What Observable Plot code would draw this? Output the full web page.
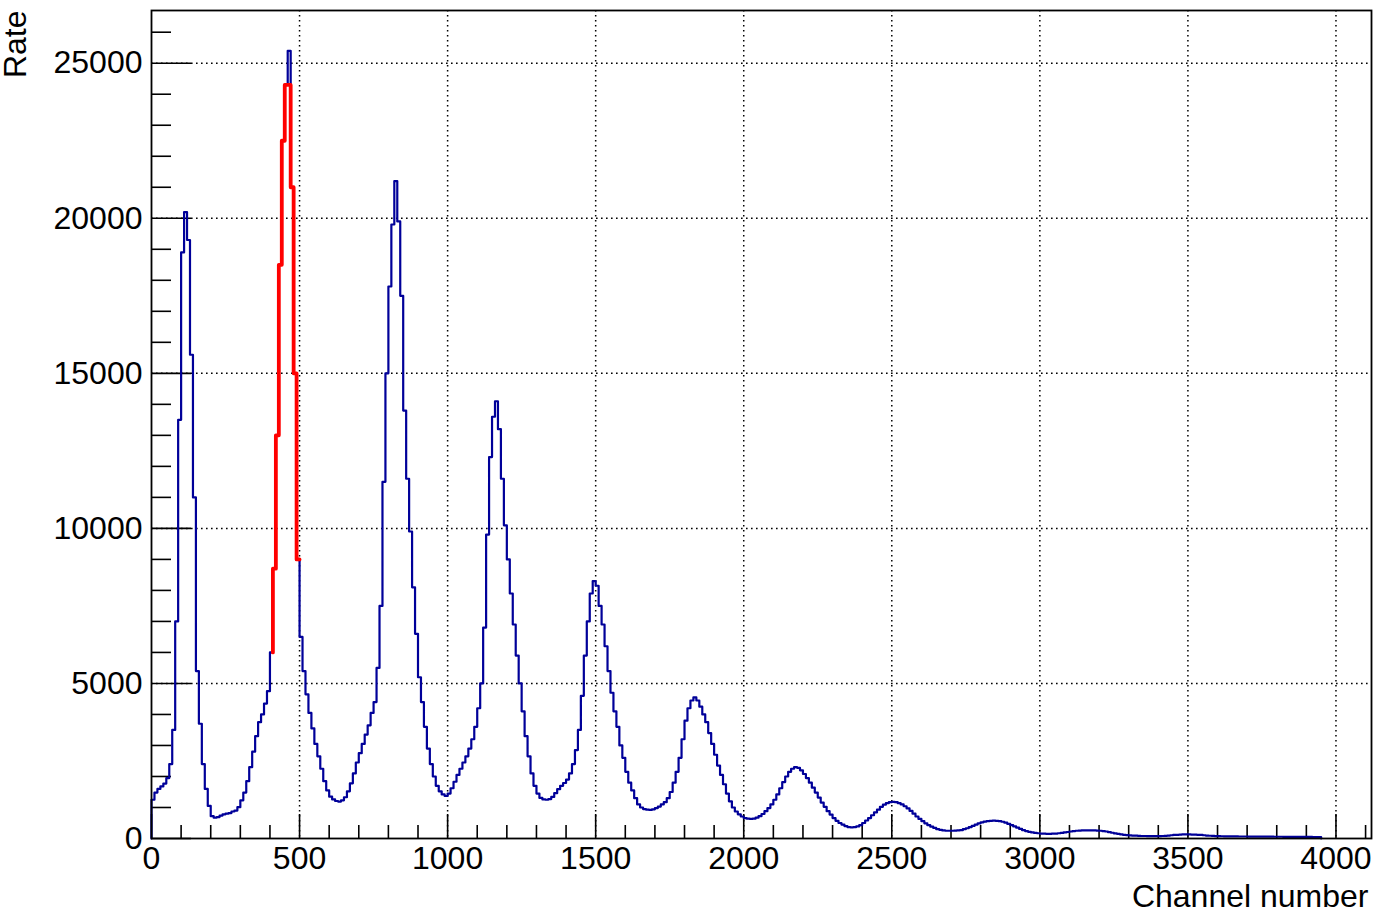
<!DOCTYPE html>
<html>
<head>
<meta charset="utf-8">
<script src="https://cdn.jsdelivr.net/npm/d3@7"></script>
<script src="https://cdn.jsdelivr.net/npm/@observablehq/plot@0.6"></script>
<style>
  html, body { margin: 0; padding: 0; background: #fff; }
</style>
</head>
<body>
<div id="chart"></div>
<script>
// Histogram: bins of 10 channels starting at channel 0
const binWidth = 10;
const blueCounts = [
  1250, 1480, 1600, 1680, 1770, 1950, 2400, 3500, 7000, 13500,
  18900, 20200, 19300, 15600, 11000, 5400, 3700, 2400, 1600, 1050,
  720, 670, 690, 740, 780, 800, 820, 870, 900, 1010,
  1230, 1480, 1850, 2300, 2800, 3300, 3750, 4000, 4350, 4750,
  6000, 8700, 13000, 18500, 22500, 24300, 25400, 21000, 15000, 9000,
  6500, 5400, 4650, 4050, 3550, 3050, 2650, 2250, 1850, 1550,
  1350, 1260, 1210, 1190, 1230, 1330, 1520, 1780, 2100, 2450,
  2750, 3050, 3350, 3650, 4050, 4400, 5500, 7500, 11500, 15000,
  17800, 19800, 21200, 19900, 17500, 13800, 11600, 9900, 8100, 6600,
  5200, 4400, 3600, 2900, 2400, 2000, 1700, 1520, 1420, 1370,
  1450, 1620, 1830, 2050, 2250, 2450, 2650, 2900, 3200, 3600,
  4200, 5000, 6800, 9800, 12300, 13600, 14100, 13200, 11600, 10100,
  9000, 7900, 6900, 5900, 5000, 4100, 3300, 2650, 2100, 1700,
  1450, 1310, 1260, 1250, 1270, 1340, 1460, 1590, 1700, 1790,
  1900, 2100, 2400, 2850, 3500, 4600, 5900, 7000, 7900, 8300,
  8150, 7500, 6900, 6200, 5400, 4700, 4100, 3600, 3000, 2600,
  2150, 1800, 1550, 1300, 1100, 1000, 950, 930, 920, 940,
  980, 1030, 1100, 1170, 1300, 1500, 1800, 2150, 2600, 3200,
  3800, 4200, 4450, 4550, 4450, 4250, 4000, 3750, 3400, 3050,
  2700, 2350, 2050, 1750, 1450, 1200, 1000, 870, 780, 710,
  660, 640, 630, 640, 670, 720, 790, 880, 980, 1100,
  1250, 1420, 1620, 1820, 2000, 2150, 2250, 2300, 2280, 2200,
  2080, 1950, 1800, 1640, 1480, 1320, 1160, 1020, 880, 770,
  660, 570, 500, 450, 400, 370, 360, 370, 390, 430,
  500, 580, 660, 750, 840, 930, 1020, 1090, 1140, 1170,
  1180, 1170, 1140, 1100, 1040, 970, 890, 800, 710, 630,
  560, 490, 430, 380, 340, 300, 280, 260, 250, 250,
  250, 255, 260, 270, 300, 330, 370, 410, 450, 490,
  520, 545, 560, 570, 575, 570, 560, 540, 510, 470,
  430, 390, 350, 310, 270, 240, 215, 195, 180, 170,
  160, 155, 150, 150, 155, 160, 170, 180, 195, 210,
  225, 240, 250, 255, 260, 265, 265, 260, 260, 255,
  250, 240, 225, 205, 185, 165, 150, 135, 120, 110,
  100, 95, 90, 85, 80, 80, 78, 76, 75, 75,
  76, 80, 85, 95, 105, 115, 120, 125, 130, 130,
  130, 128, 125, 120, 115, 105, 95, 88, 82, 78,
  75, 72, 70, 70, 68, 68, 66, 65, 65, 64,
  63, 62, 62, 61, 60, 60, 59, 58, 58, 57,
  56, 56, 55, 55, 54, 53, 53, 52, 52, 51,
  50, 50, 49, 48, 48
];

// Highlighted (red) range of the histogram
const redStart = 410;
const redCounts = [8700, 13000, 18500, 22500, 24300, 24300, 21000, 15000, 9000];

// Axis ticks
const xTicks = [0, 500, 1000, 1500, 2000, 2500, 3000, 3500, 4000];
const yTicks = [0, 5000, 10000, 15000, 20000, 25000];
const xDomain = [0, 4120];
const yDomain = [0, 26700];
const xMinor = d3.range(0, 4101, 100).filter(v => v % 500 !== 0);
const yMinor = d3.range(0, 26001, 1000).filter(v => v % 5000 !== 0);

// Build step outlines
const bluePts = [{x: 0, y: 0}];
blueCounts.forEach((v, i) => bluePts.push({x: i * binWidth, y: v}));
const blueEnd = blueCounts.length * binWidth;
bluePts.push({x: blueEnd, y: blueCounts[blueCounts.length - 1]});
bluePts.push({x: blueEnd, y: 0});

const redPts = [{x: redStart, y: blueCounts[redStart / binWidth - 1]}];
redCounts.forEach((v, i) => redPts.push({x: redStart + i * binWidth, y: v}));
const redEnd = redStart + redCounts.length * binWidth;
redPts.push({x: redEnd, y: redCounts[redCounts.length - 1]});

const W = 1375, H = 912;
const mL = 151, mR = 4, mT = 10, mB = 74;
const fw = W - mL - mR, fh = H - mT - mB;
const font = "'Liberation Sans', Arial, Helvetica, sans-serif";

const chart = Plot.plot({
  width: W,
  height: H,
  marginLeft: mL,
  marginRight: mR,
  marginTop: mT,
  marginBottom: mB,
  style: {fontFamily: font, fontSize: "32px", background: "#fff", color: "#000", overflow: "visible"},
  x: {domain: xDomain},
  y: {domain: yDomain},
  marks: [
    // dotted grid
    Plot.ruleX(xTicks.filter(d => d > 0), {x: d => d, stroke: "#000", strokeWidth: 1.5, strokeDasharray: "1.6,3.4"}),
    Plot.ruleY(yTicks.filter(d => d > 0), {y: d => d, stroke: "#000", strokeWidth: 1.5, strokeDasharray: "1.6,3.4"}),
    // inward ticks
    Plot.tickY(yTicks, {y: d => d, insetRight: fw - 40, stroke: "#000", strokeWidth: 1.6}),
    Plot.tickY(yMinor, {y: d => d, insetRight: fw - 20, stroke: "#000", strokeWidth: 1.6}),
    Plot.tickX(xTicks, {x: d => d, insetTop: fh - 24, stroke: "#000", strokeWidth: 1.6}),
    Plot.tickX(xMinor, {x: d => d, insetTop: fh - 13, stroke: "#000", strokeWidth: 1.6}),
    // histogram
    Plot.line(bluePts, {x: "x", y: "y", curve: "step-after", stroke: "#000099", strokeWidth: 2.2}),
    Plot.line(redPts, {x: "x", y: "y", curve: "step-after", stroke: "#ff0000", strokeWidth: 3.8}),
    Plot.frame({stroke: "#000", strokeWidth: 1.8}),
    // axes
    Plot.axisX({ticks: xTicks, tickFormat: "d", tickSize: 0, tickPadding: 8, label: null, fontSize: 32}),
    Plot.axisY({ticks: yTicks, tickFormat: "d", tickSize: 0, tickPadding: 9, label: null, fontSize: 32}),
    // axis titles
    Plot.text(["Rate"], {frameAnchor: "top-left", text: d => d, rotate: -90, textAnchor: "end", lineAnchor: "bottom", dx: -126, dy: 0, fontSize: 32, fill: "#000"}),
    Plot.text(["Channel number"], {frameAnchor: "bottom-right", text: d => d, textAnchor: "end", lineAnchor: "bottom", dx: -3, dy: 68, fontSize: 32, fill: "#000"})
  ]
});
document.getElementById("chart").appendChild(chart);
</script>
</body>
</html>
